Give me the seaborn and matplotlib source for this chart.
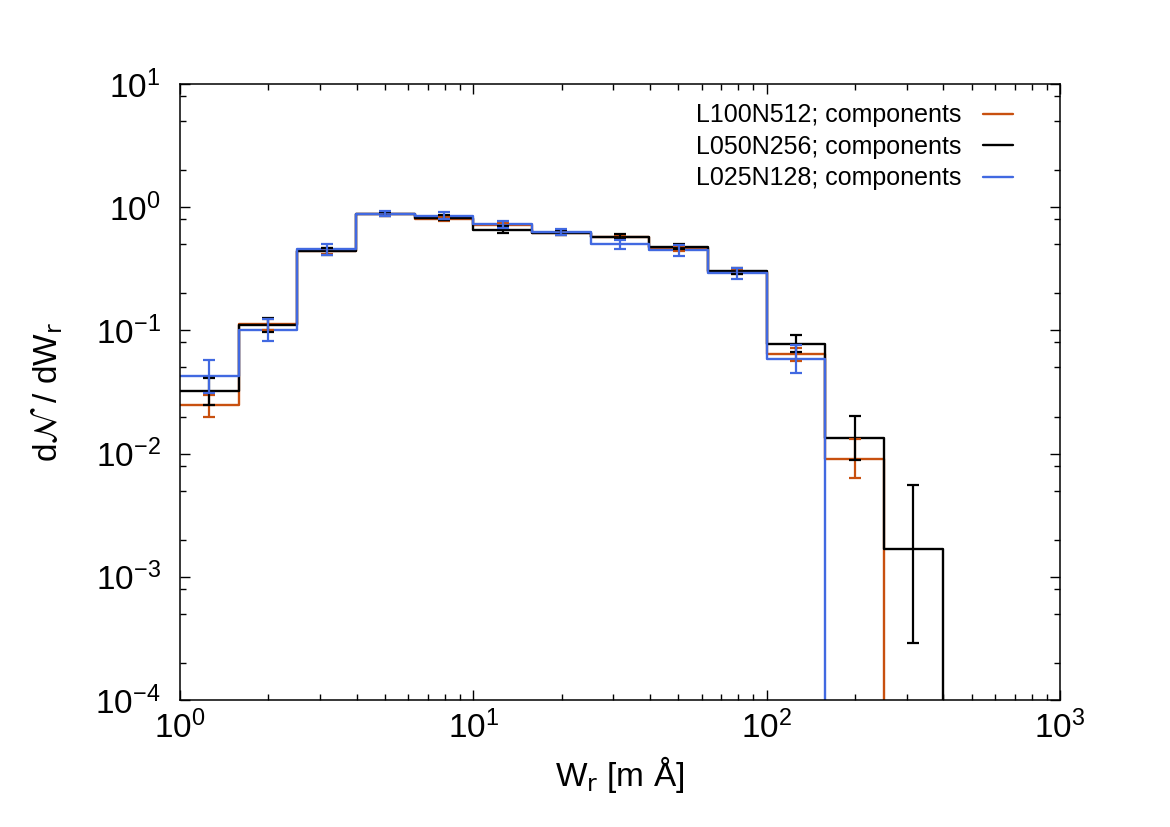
import numpy as np
import pandas as pd
import seaborn as sns
import matplotlib
matplotlib.use("Agg")
import matplotlib.pyplot as plt
from matplotlib import ticker

# bin edges of W_r [m A] (5 bins per decade) and geometric bin centres
edges = [1.0, 1.585, 2.512, 3.981, 6.310, 10.0, 15.85, 25.12, 39.81, 63.10, 100.0, 158.5, 251.2, 398.1]
centers = [1.259, 1.995, 3.162, 5.012, 7.943, 12.59, 19.95, 31.62, 50.12, 79.43, 125.9, 199.5, 316.2]

runs = ["L100N512; components", "L050N256; components", "L025N128; components"]
colors = ["#c8500f", "#000000", "#4169e1"]

# dN/dW_r with lower / upper error bounds (empty bins left out at the high end)
red_val = [0.0247, 0.112, 0.44, 0.885, 0.80, 0.72, 0.62, 0.575, 0.465, 0.300, 0.0649, 0.0091]
red_lo = [0.0200, 0.100, 0.415, 0.85, 0.77, 0.69, 0.59, 0.55, 0.445, 0.285, 0.056, 0.0063]
red_hi = [0.0300, 0.124, 0.465, 0.92, 0.83, 0.75, 0.65, 0.60, 0.485, 0.315, 0.0726, 0.0131]

black_val = [0.032, 0.110, 0.44, 0.88, 0.824, 0.65, 0.62, 0.574, 0.471, 0.303, 0.078, 0.0135, 0.00168]
black_lo = [0.0247, 0.097, 0.41, 0.845, 0.79, 0.615, 0.59, 0.553, 0.455, 0.285, 0.067, 0.0089, 0.000289]
black_hi = [0.0408, 0.126, 0.47, 0.915, 0.86, 0.70, 0.65, 0.604, 0.50, 0.32, 0.0917, 0.0203, 0.00557]

blue_val = [0.0425, 0.100, 0.456, 0.889, 0.855, 0.732, 0.627, 0.505, 0.448, 0.29, 0.0591]
blue_lo = [0.031, 0.082, 0.41, 0.85, 0.795, 0.68, 0.59, 0.457, 0.40, 0.259, 0.0452]
blue_hi = [0.0573, 0.123, 0.504, 0.93, 0.916, 0.78, 0.665, 0.54, 0.49, 0.324, 0.0757]

series = [(red_val, red_lo, red_hi), (black_val, black_lo, black_hi), (blue_val, blue_lo, blue_hi)]
FLOOR = 1e-6  # stands in for the empty bins, below the plotted range


def step_frame(name, vals):
    n = len(vals)
    x = edges[:n + 1] + [edges[n]]
    y = list(vals) + [vals[-1], FLOOR]
    return pd.DataFrame({"W": x, "dNdW": y, "run": name})


df = pd.concat([step_frame(r, s[0]) for r, s in zip(runs, series)], ignore_index=True)

sns.set_theme(style="ticks")
plt.rcParams['font.family'] = ['Liberation Sans', 'DejaVu Sans']
plt.rcParams['axes.linewidth'] = 1.1
for key in ['text.color', 'axes.labelcolor', 'xtick.color', 'ytick.color', 'axes.edgecolor']:
    plt.rcParams[key] = 'black'

fig = plt.figure(figsize=(11.7, 8.27), dpi=100)
ax = fig.add_axes([0.1538, 0.1536, 0.7522, 0.7448])

sns.lineplot(data=df, x="W", y="dNdW", hue="run", hue_order=runs, palette=colors,
             drawstyle="steps-post", estimator=None, sort=False, linewidth=1.7, ax=ax)

for (vals, lo, hi), c in zip(series, colors):
    n = len(vals)
    v = np.array(vals)
    yerr = [v - np.array(lo), np.array(hi) - v]
    ax.errorbar(centers[:n], v, yerr=yerr, fmt="none", ecolor=c, elinewidth=1.6,
                capsize=4, capthick=1.6, zorder=3)

ax.set_xscale("log")
ax.set_yscale("log")
ax.set_xlim(1, 1000)
ax.set_ylim(1e-4, 10)
ax.yaxis.set_minor_locator(ticker.LogLocator(base=10, subs=[2, 5, 8]))
ax.yaxis.set_minor_formatter(ticker.NullFormatter())
ax.xaxis.set_minor_formatter(ticker.NullFormatter())

ax.tick_params(which="both", direction="in", top=True, right=True, width=1.0, colors="black")
ax.tick_params(which="major", length=7, labelsize=24)
ax.tick_params(which="minor", length=4)
ax.tick_params(axis="x", which="major", pad=8)
ax.tick_params(axis="y", which="major", pad=14)

ax.set_xlabel(r"W$_\mathrm{r}$ [m Å]", fontsize=24, labelpad=6)
ax.set_ylabel(r"d$\mathcal{N}$ / dW$_\mathrm{r}$", fontsize=24, labelpad=22)

sns.move_legend(ax, "upper right", bbox_to_anchor=(0.972, 1.005), title=None, frameon=False,
                markerfirst=False, fontsize=18, handlelength=1.2, handletextpad=0.85,
                labelspacing=0.3)

fig.savefig("out.png", dpi=100)
